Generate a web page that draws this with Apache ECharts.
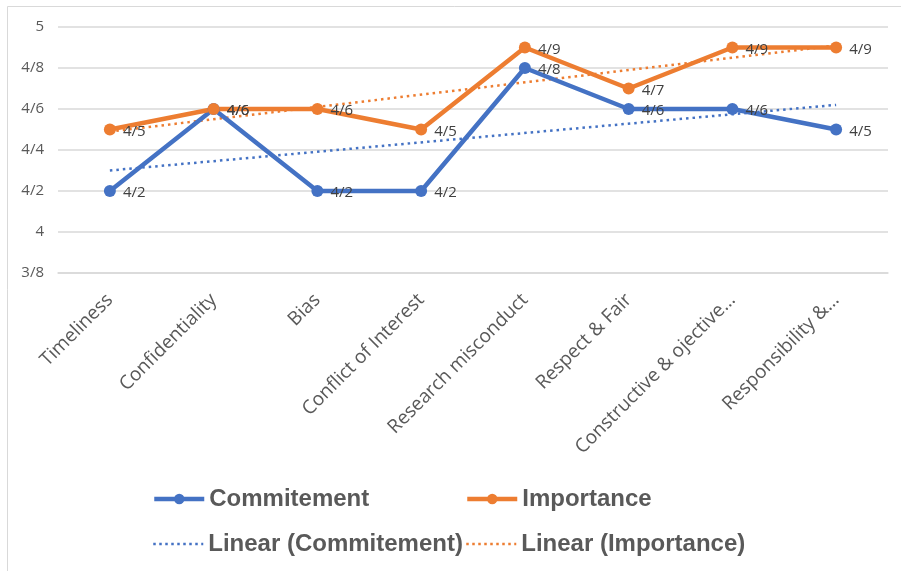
<!DOCTYPE html>
<html>
<head>
<meta charset="utf-8">
<script src="https://cdn.jsdelivr.net/npm/echarts@6/dist/echarts.min.js"></script>
<style>html,body{margin:0;padding:0;background:#fff;}#c{width:901px;height:571px;}</style>
</head>
<body>
<div id="c"></div>
<script>
const categories = ['Timeliness','Confidentiality','Bias','Conflict of Interest','Research misconduct','Respect & Fair','Constructive & ojective…','Responsibility &…'];
const commitment = [4.2, 4.6, 4.2, 4.2, 4.8, 4.6, 4.6, 4.5];
const importance = [4.5, 4.6, 4.6, 4.5, 4.9, 4.7, 4.9, 4.9];
// trendline end values (first and last category)
const trendCommitment = [4.30, 4.62];
const trendImportance = [4.49, 4.91];
const yTicks = ['3/8','4','4/2','4/4','4/6','4/8','5'];

const BLUE = '#4472C4', ORANGE = '#ED7D31';
function fmt(v){ return String(+Number(v).toFixed(1)).replace('.', '/'); }
function trendData(ends){
  const d = categories.map(() => null);
  d[0] = ends[0]; d[d.length-1] = ends[1];
  return d;
}
const chart = echarts.init(document.getElementById('c'));
const legendText = {fontFamily:'Liberation Sans', fontWeight:'bold', fontSize:24, color:'#595959'};
function leg(name, left, top, color, dotted){
  const item = {name:name};
  if (dotted) {
    item.itemStyle = {opacity:0};
    item.lineStyle = {width:2.5, type:[2.5,3.5], color:color};
  } else {
    item.itemStyle = {color:color};
    item.lineStyle = {width:4.5, color:color};
  }
  return {data:[item], left:left, top:top, padding:0, itemWidth:50, itemHeight:13, itemGap:0,
          textStyle:legendText};
}
chart.setOption({
  animation:false,
  backgroundColor:'#fff',
  graphic:[{type:'rect', shape:{x:7.5,y:6.5,width:900,height:570}, style:{fill:'none', stroke:'#D9D9D9', lineWidth:1}, silent:true}],
  grid:{left:58, right:13, top:27, bottom:298},
  legend:[
    leg('Commitement', 152, 487, BLUE, false),
    leg('Importance', 465, 487, ORANGE, false),
    leg('Linear (Commitement)', 152, 532, BLUE, true),
    leg('Linear (Importance)', 465, 532, ORANGE, true)
  ],
  xAxis:{type:'category', data:categories, boundaryGap:true,
    axisLine:{show:true, lineStyle:{color:'#D9D9D9', width:1.5}},
    axisTick:{show:false},
    axisLabel:{rotate:45, interval:0, fontFamily:'Open Sans', fontSize:19, color:'#595959', margin:24}},
  yAxis:{type:'value', min:3.8, max:5, interval:0.2,
    axisLine:{show:false}, axisTick:{show:false},
    splitLine:{lineStyle:{color:'#D9D9D9', width:1.5}},
    axisLabel:{fontFamily:'Open Sans', fontSize:15, color:'#595959', margin:14,
      formatter:function(v){ const i = Math.round((v-3.8)/0.2); return yTicks[i] !== undefined ? yTicks[i] : fmt(v); }}},
  series:[
    {name:'Commitement', type:'line', data:commitment, color:BLUE,
     lineStyle:{width:4.5, color:BLUE}, symbol:'circle', symbolSize:12, itemStyle:{color:BLUE}, z:3,
     label:{show:true, position:'right', distance:7, offset:[0,2], formatter:p=>fmt(p.value), fontFamily:'Open Sans', fontSize:15, color:'#404040'}},
    {name:'Importance', type:'line', data:importance, color:ORANGE,
     lineStyle:{width:4.5, color:ORANGE}, symbol:'circle', symbolSize:12, itemStyle:{color:ORANGE}, z:3,
     label:{show:true, position:'right', distance:7, offset:[0,2], formatter:p=>fmt(p.value), fontFamily:'Open Sans', fontSize:15, color:'#404040'}},
    {name:'Linear (Commitement)', type:'line', data:trendData(trendCommitment), connectNulls:true, color:BLUE,
     symbol:'none', lineStyle:{width:2.5, type:[2.5,4], color:BLUE}, z:2},
    {name:'Linear (Importance)', type:'line', data:trendData(trendImportance), connectNulls:true, color:ORANGE,
     symbol:'none', lineStyle:{width:2.5, type:[2.5,4], color:ORANGE}, z:2}
  ]
});
</script>
</body>
</html>
